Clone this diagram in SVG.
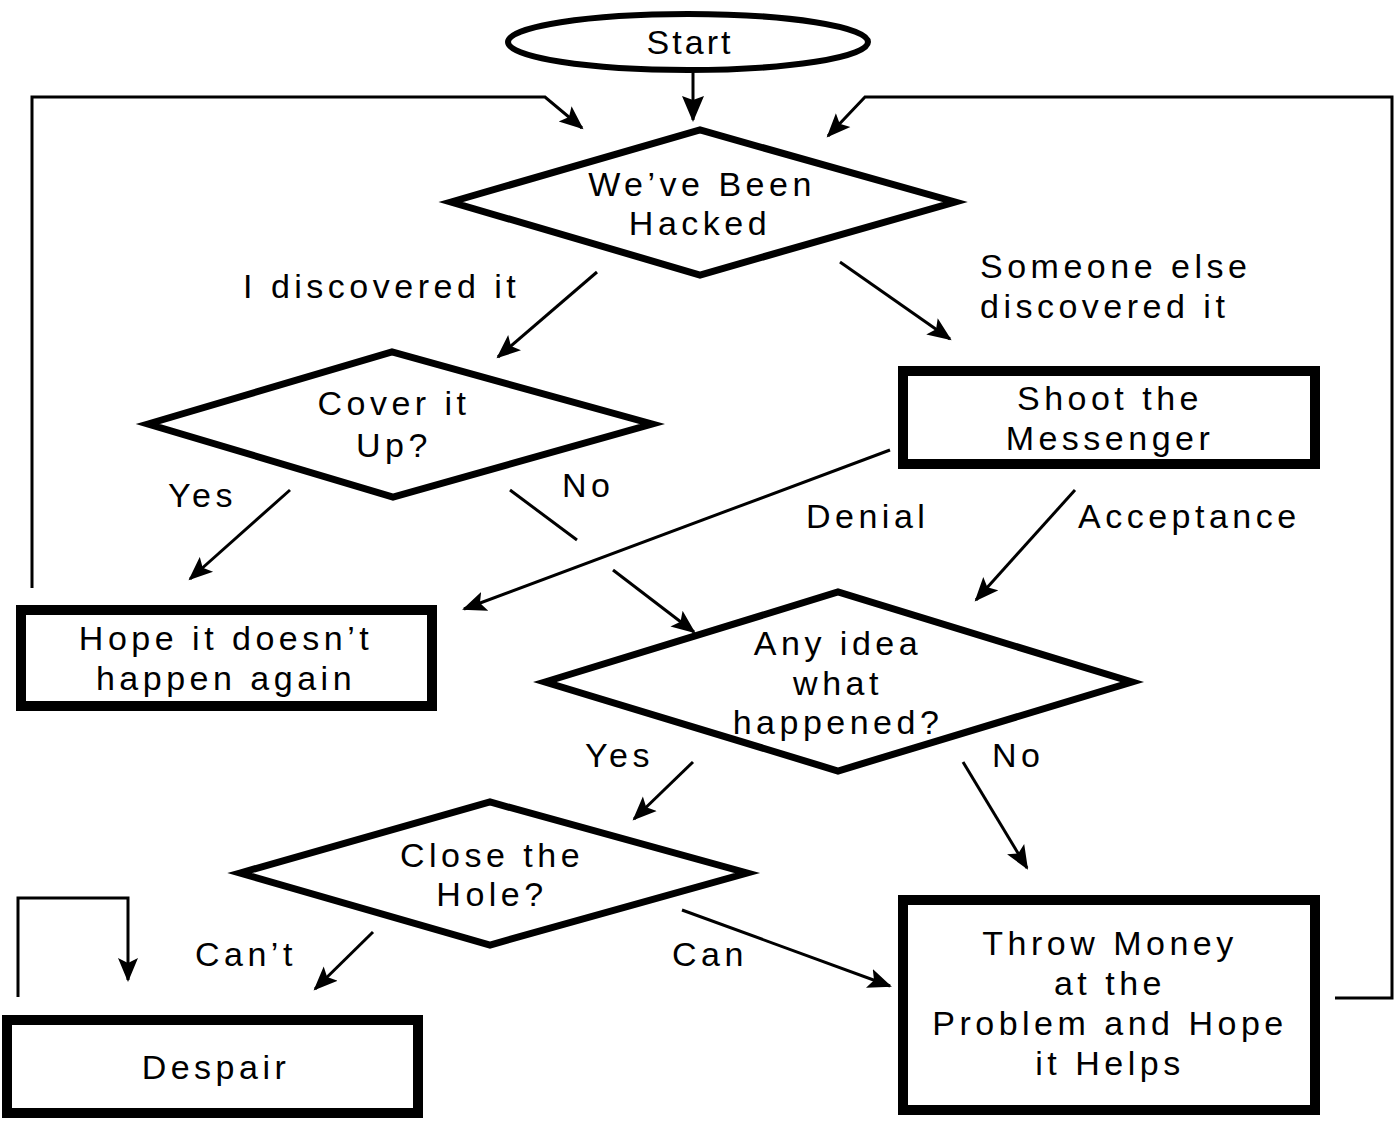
<svg xmlns="http://www.w3.org/2000/svg" width="1395" height="1121" viewBox="0 0 1395 1121">
<defs>
<marker id="arr" markerUnits="userSpaceOnUse" markerWidth="26" markerHeight="22" refX="22" refY="11" orient="auto">
<path d="M0,1 L24,11 L0,21 L5,11 z" fill="#000"/>
</marker>
<marker id="arrB" markerUnits="userSpaceOnUse" markerWidth="28" markerHeight="24" refX="24" refY="12" orient="auto">
<path d="M0,1 L26,12 L0,23 L4,12 z" fill="#000"/>
</marker>
</defs>
<style>
text{font-family:"Liberation Sans",Arial,sans-serif;font-size:34px;fill:#000;letter-spacing:4.5px}
.c{text-anchor:middle}
.shape{fill:#fff;stroke:#000;stroke-linejoin:miter}
.dia{stroke-width:7}
.box{stroke-width:10}
.conn{fill:none;stroke:#000;stroke-width:3}
</style>
<rect width="1395" height="1121" fill="#fff"/>
<g id="connectors">
<line class="conn" x1="693" y1="72" x2="693" y2="120" stroke-width="5" marker-end="url(#arrB)"/>
<polyline class="conn" points="32,588 32,97 545,97 582,128" marker-end="url(#arr)"/>
<polyline class="conn" points="1335,998 1392,998 1392,97 865,97 828,136" marker-end="url(#arr)"/>
<line class="conn" x1="597" y1="272" x2="498" y2="357" marker-end="url(#arr)"/>
<line class="conn" x1="840" y1="262" x2="950" y2="339" marker-end="url(#arr)"/>
<line class="conn" x1="290" y1="490" x2="190" y2="579" marker-end="url(#arr)"/>
<line class="conn" x1="510" y1="490" x2="577" y2="540"/>
<line class="conn" x1="613" y1="570" x2="694" y2="632" marker-end="url(#arr)"/>
<line class="conn" x1="890" y1="450" x2="464" y2="609" stroke-width="2.5" marker-end="url(#arr)"/>
<line class="conn" x1="1075" y1="490" x2="976" y2="600" marker-end="url(#arr)"/>
<line class="conn" x1="693" y1="762" x2="634" y2="819" marker-end="url(#arr)"/>
<line class="conn" x1="963" y1="762" x2="1027" y2="868" marker-end="url(#arr)"/>
<line class="conn" x1="373" y1="932" x2="315" y2="989" marker-end="url(#arr)"/>
<line class="conn" x1="682" y1="910" x2="890" y2="986" marker-end="url(#arr)"/>
<polyline class="conn" points="18,997 18,898 128,898 128,980" marker-end="url(#arr)"/>
</g>
<g id="start">
<ellipse class="shape" cx="688" cy="42" rx="180" ry="28" stroke-width="6"/>
<text class="c" x="690" y="54" style="letter-spacing:3px">Start</text>
</g>
<g id="hacked">
<polygon class="shape dia" points="451,202 700,130 955,202 700,275"/>
<text class="c" x="702" y="196">We’ve Been</text>
<text class="c" x="700" y="235">Hacked</text>
</g>
<g id="cover">
<polygon class="shape dia" points="148,424 392,352 652,424 393,497" stroke-width="6"/>
<text class="c" x="394" y="415">Cover it</text>
<text class="c" x="394" y="457">Up?</text>
</g>
<g id="shoot">
<rect class="shape box" x="903" y="371" width="412" height="93"/>
<text class="c" x="1110" y="410">Shoot the</text>
<text class="c" x="1110" y="450">Messenger</text>
</g>
<g id="hope">
<rect class="shape box" x="21" y="610" width="411" height="96"/>
<text class="c" x="226" y="650">Hope it doesn’t</text>
<text class="c" x="226" y="690">happen again</text>
</g>
<g id="anyidea">
<polygon class="shape dia" points="545,682 838,592 1132,682 838,771"/>
<text class="c" x="838" y="655">Any idea</text>
<text class="c" x="838" y="695">what</text>
<text class="c" x="838" y="734">happened?</text>
</g>
<g id="close">
<polygon class="shape dia" points="240,873 490,802 747,873 490,945"/>
<text class="c" x="492" y="867">Close the</text>
<text class="c" x="492" y="906">Hole?</text>
</g>
<g id="despair">
<rect class="shape box" x="7" y="1020" width="411" height="93"/>
<text class="c" x="216" y="1079">Despair</text>
</g>
<g id="throw">
<rect class="shape box" x="903" y="900" width="412" height="210"/>
<text class="c" x="1110" y="955">Throw Money</text>
<text class="c" x="1110" y="995">at the</text>
<text class="c" x="1110" y="1035">Problem and Hope</text>
<text class="c" x="1110" y="1075">it Helps</text>
</g>
<g id="labels">
<text x="243" y="298">I discovered it</text>
<text x="980" y="278">Someone else</text>
<text x="980" y="318">discovered it</text>
<text x="168" y="507">Yes</text>
<text x="562" y="497">No</text>
<text x="806" y="528">Denial</text>
<text x="1078" y="528">Acceptance</text>
<text x="585" y="767">Yes</text>
<text x="992" y="767">No</text>
<text x="195" y="966">Can’t</text>
<text x="672" y="966">Can</text>
</g>
</svg>
